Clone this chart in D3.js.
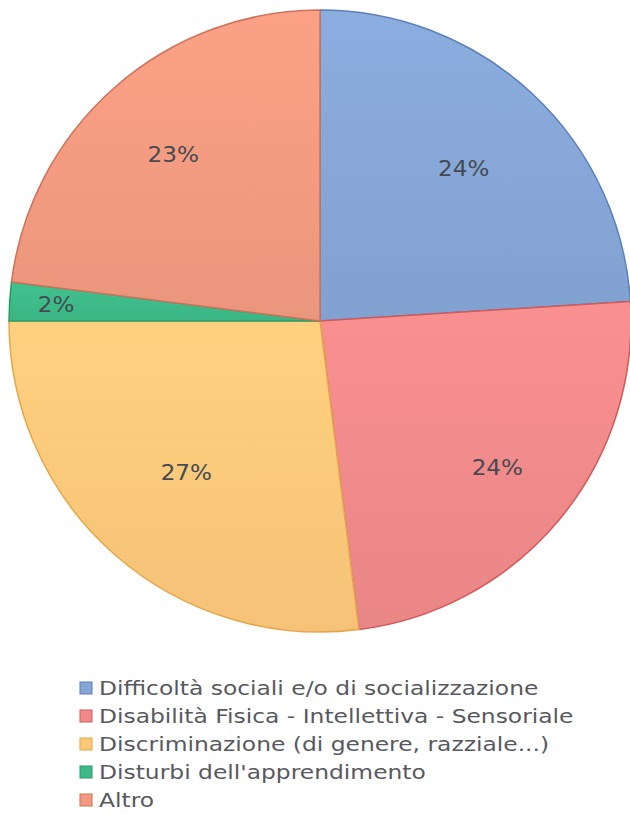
<!DOCTYPE html>
<html>
<head>
<meta charset="utf-8">
<script src="https://cdn.jsdelivr.net/npm/d3@7"></script>
<style>
  body { margin: 0; background: #fff; }
  svg { display: block; font-family: "DejaVu Sans", Verdana, sans-serif; }
</style>
</head>
<body>
<div id="app"></div>
<script>
const categories = [
  "Difficoltà sociali e/o di socializzazione",
  "Disabilità Fisica - Intellettiva - Sensoriale",
  "Discriminazione (di genere, razziale...)",
  "Disturbi dell'apprendimento",
  "Altro"
];
const values = [24, 24, 27, 2, 23];
const labels = ["24%", "24%", "27%", "2%", "23%"];

const fills = ["#85a6d6", "#f08a8a", "#fcc87a", "#3dba88", "#f19a80"];
const strokes = ["#5b7fb8", "#d25a5a", "#e5a64a", "#2a9a68", "#d0705a"];

const width = 630, height = 815;
const cx = 320, cy = 321, radius = 311;

const svg = d3.select("#app").append("svg")
  .attr("width", width)
  .attr("height", height);

const defs = svg.append("defs");
fills.forEach((c, i) => {
  const g = defs.append("linearGradient")
    .attr("id", "grad" + i)
    .attr("x1", 0).attr("y1", 0).attr("x2", 0).attr("y2", 1);
  g.append("stop").attr("offset", "0%").attr("stop-color", d3.color(c).brighter(0.12));
  g.append("stop").attr("offset", "100%").attr("stop-color", d3.color(c).darker(0.08));
});

const pie = d3.pie().sort(null).value(d => d);
const arcs = pie(values);

const arc = d3.arc().innerRadius(0).outerRadius(radius);

const g = svg.append("g").attr("transform", `translate(${cx},${cy})`);

g.selectAll("path")
  .data(arcs)
  .enter()
  .append("path")
  .attr("d", arc)
  .attr("fill", (d, i) => `url(#grad${i})`)
  .attr("stroke", (d, i) => strokes[i])
  .attr("stroke-width", 1.5)
  .attr("stroke-linejoin", "round");

// label distance from centre, as a fraction of the radius
const labelRadius = [0.675, 0.74, 0.65, 0.85, 0.714];
g.selectAll("text")
  .data(arcs)
  .enter()
  .append("text")
  .attr("transform", (d, i) => {
    const a = (d.startAngle + d.endAngle) / 2;
    const r = radius * labelRadius[i];
    return `translate(${Math.sin(a) * r},${-Math.cos(a) * r}) scale(1.1,1)`;
  })
  .attr("text-anchor", "middle")
  .attr("dy", "0.36em")
  .attr("font-size", 21)
  .attr("fill", "#454a52")
  .text((d, i) => labels[i]);

// legend
const legend = svg.append("g").attr("transform", "translate(80,688)");
const rowH = 28;
const item = legend.selectAll("g")
  .data(categories)
  .enter()
  .append("g")
  .attr("transform", (d, i) => `translate(0,${i * rowH})`);

item.append("rect")
  .attr("x", 0).attr("y", -6)
  .attr("width", 12).attr("height", 12)
  .attr("fill", (d, i) => fills[i])
  .attr("stroke", (d, i) => strokes[i])
  .attr("stroke-width", 1);

item.append("text")
  .attr("transform", "translate(19,0) scale(1.17,1)")
  .attr("dy", "0.36em")
  .attr("font-size", 20)
  .attr("fill", "#58595e")
  .text(d => d);
</script>
</body>
</html>
